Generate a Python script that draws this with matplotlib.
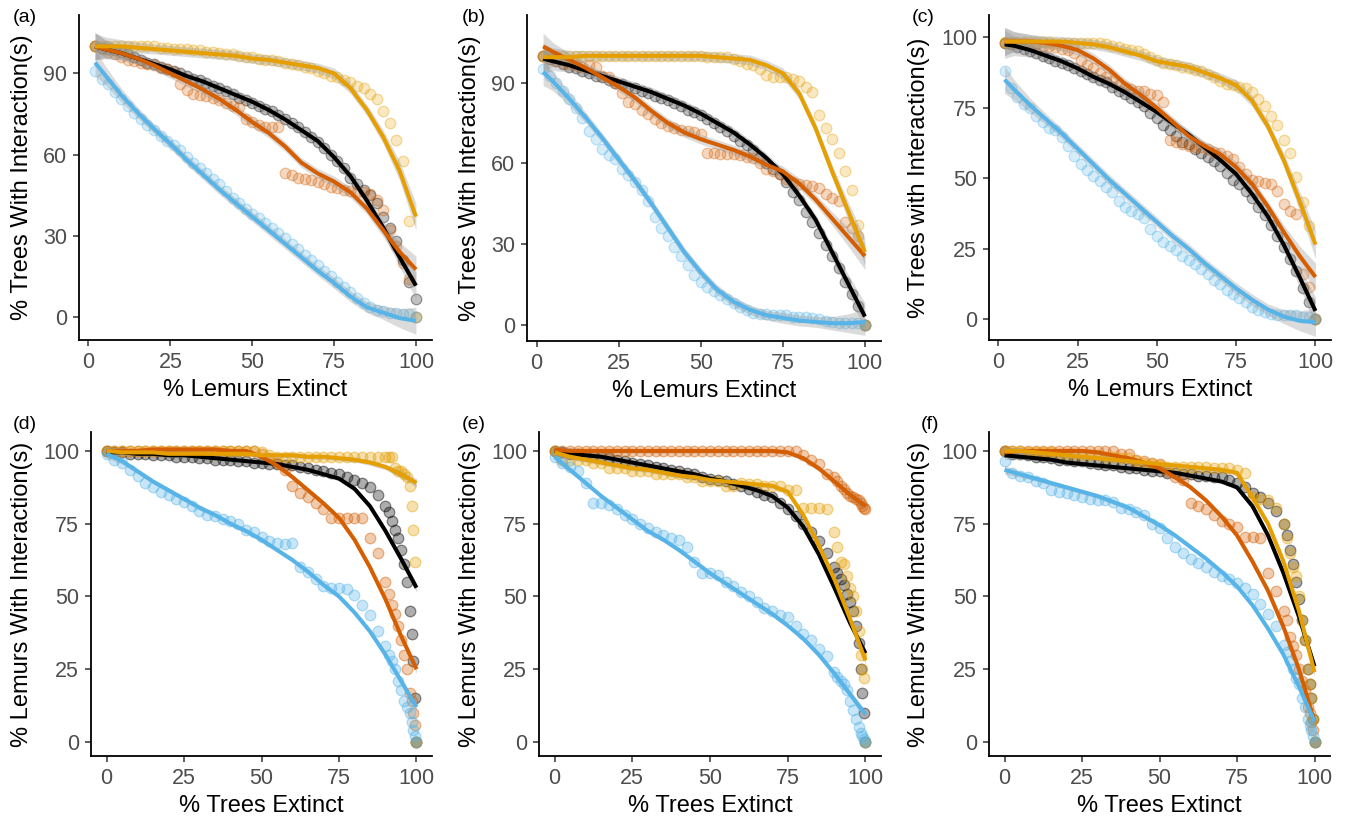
import numpy as np
import matplotlib
matplotlib.use("Agg")
import matplotlib.pyplot as plt
from matplotlib.colors import to_rgba

plt.rcParams["font.family"] = ["Liberation Sans", "DejaVu Sans"]

BLUE = "#56B4E9"
VERMILLION = "#D55E00"
ORANGE = "#E69F00"
BLACK = "#000000"

# x positions: % lemurs removed (top row), % trees removed (bottom row)
TOP_X = np.arange(2, 101, 2)
TOP_FIT_X = [2, 5, 10, 15, 20, 25, 30, 35, 40, 45, 50, 55, 60, 65, 70, 75, 80, 85, 90, 95, 100]
BOTTOM_X = [0, 2.5, 5, 7.5, 10, 12.5, 15, 17.5, 20, 22.5,
            25, 27.5, 30, 32.5, 35, 37.5, 40, 42.5, 45, 47.5,
            50, 52.5, 55, 57.5, 60, 62.5, 65, 67.5, 70, 72.5,
            75, 77.5, 80, 82.5, 85, 87.5, 90, 91, 92, 93,
            94, 95, 96, 97, 98, 98.5, 99, 99.5, 100]
BOTTOM_FIT_X = [0, 5, 10, 15, 20, 25, 30, 35, 40, 45, 50, 55, 60, 65, 70, 75, 80, 85, 90, 95, 100]

# half width of the smoother's confidence band
TOP_BAND = [5, 3.5, 2.5, 2, 1.8, 1.8, 1.8, 1.8, 1.8, 1.8, 1.8, 1.8, 1.8, 1.8, 1.8, 2, 2, 2, 2.5, 3.5, 5]
BOTTOM_BAND = [1.5, 1, 0.8, 0.8, 0.8, 0.8, 0.8, 0.8, 0.8, 0.8, 0.8, 0.8, 0.8, 0.8, 0.8, 0.8, 0.8, 1, 1, 1.2, 1.5]

# ---- panel (a)
a_black = [100, 99.5, 99, 98.5, 98, 97, 96, 95, 94, 93.5,
           92.5, 91.5, 91, 90, 89, 88, 87.5, 86.5, 85.5, 84.5,
           83.5, 82.5, 81, 80, 79, 78, 77, 76, 74.5, 73,
           71.5, 70, 68.5, 66.5, 64.5, 62.5, 60, 57.5, 55, 51.5,
           49, 47, 45, 42, 37, 33, 28, 21, 13, 6.5]
a_verm = [100, 99, 98, 97, 96, 95, 94.5, 94, 93.5, 93,
          92, 91.5, 90.5, 86, 84, 82.5, 82, 81.5, 81, 80,
          79, 78, 77.5, 73, 72, 71, 70, 70, 70, 53,
          52.5, 51.5, 51, 50.5, 50, 49, 48, 47.5, 47, 46.5,
          46, 46, 45.5, 43, 39.5, 32, 26, 20, 14, 0]
a_orange = [100, 100, 100, 100, 100, 100, 100, 100, 100, 100,
            99.5, 99.5, 99, 99, 99, 98.5, 98.5, 98, 98, 97.5,
            97, 97, 96.5, 96, 96, 95.5, 95, 95, 94.5, 94,
            93.5, 93, 92.5, 92, 91, 90, 89, 88.5, 87.5, 87,
            85.5, 84.5, 82.5, 80.5, 76, 71.5, 65.5, 57.5, 35.5, 0]
a_blue = [91, 88, 86, 83, 80.5, 78, 75.5, 73, 71, 69,
          67, 65, 63.5, 61.5, 59, 57, 55, 53, 51, 49,
          46.5, 44, 42, 40, 38, 36.5, 34.5, 33, 31, 29,
          27, 25, 23, 21, 19, 17, 15, 13, 11, 9,
          7, 5, 3.5, 2.5, 2, 1.5, 1.5, 1, 1, 0]
a_black_fit = [100, 99, 97.5, 95.5, 93.5, 91.5, 89, 87, 84.5, 82, 79.5, 76.5, 73, 69, 65, 59, 52, 43, 33, 22, 11.5]
a_verm_fit = [100, 99, 97.5, 95.5, 93, 90, 87, 84, 80.5, 76.5, 72, 68, 63, 57, 53, 50, 46, 40, 32, 24, 17.5]
a_orange_fit = [100, 100, 100, 99.5, 99, 98.5, 98, 97.5, 97, 96.5, 95.5, 95, 94, 93, 92, 90, 84.5, 76.5, 66.5, 54, 37]
a_blue_fit = [94, 89.5, 82, 75.5, 69.5, 64, 58, 52.5, 47, 42, 37, 32, 27, 22, 17, 12.5, 7.5, 3.5, 1.5, -0.5, -1.5]

# ---- panel (b)
b_black = [100, 99, 98, 97, 96, 95.5, 94.5, 93.5, 92.5, 92,
           91, 90, 89.5, 88.5, 88, 87, 86, 85, 84.5, 83.5,
           82.5, 81.5, 80, 79, 78, 76.5, 75, 73.5, 72, 70,
           68.5, 67, 65, 62.5, 60, 58, 56, 53, 49.5, 46.5,
           42, 38, 34, 29.5, 25.5, 21, 16, 11.5, 7, 0]
b_verm = [100, 99, 98, 97.5, 97, 96.5, 96, 96.5, 96, 92.5,
          92, 90, 86, 83, 82, 80, 78.5, 76.5, 75, 74,
          73, 72.5, 72, 71.5, 71, 64, 64, 63.5, 63.5, 63.5,
          63, 62.5, 62, 60, 58, 57, 56, 54, 53, 52.5,
          52, 51.5, 51, 48.5, 47, 46, 38, 36, 33, 0]
b_orange = [100, 100, 100, 100, 100, 100, 100, 100, 100, 100,
            100, 100, 100, 100, 100, 100, 100, 100, 100, 100,
            100, 100, 100, 100, 100, 99.5, 99.5, 99.5, 99.5, 99,
            98, 97, 96.5, 95, 93, 92, 92, 92, 91.5, 90.5,
            88.5, 86.5, 78, 73, 69, 64, 57, 50, 37, 0]
b_blue = [95, 92.5, 90, 87, 84, 80.5, 77, 72, 69, 65.5,
          63, 61.5, 58, 55.5, 53, 50, 46, 40, 36, 33,
          29, 25.5, 22, 18.5, 16, 14, 12.5, 11, 9.5, 8,
          6.5, 5.5, 4.5, 4, 4, 3.5, 3.5, 3.5, 3, 3,
          3, 2.5, 2, 1.5, 1, 0.5, 0.5, 0.5, 0.5, 0]
b_black_fit = [99, 98, 96.5, 94.5, 92.5, 90.5, 88.5, 86.5, 84, 81.5, 78.5, 75, 71.5, 67, 62, 56, 48, 39, 27, 15, 3]
b_verm_fit = [103.5, 101.5, 98.5, 95.5, 92, 88.5, 84.5, 79.5, 75, 71.5, 69, 67, 65, 62.5, 59.5, 57, 52.5, 46.5, 39.5, 32.5, 25.5]
b_orange_fit = [99.5, 99.5, 99.5, 100, 100, 100, 100, 100, 100, 100, 100, 99.5, 99, 98.5, 96.5, 93.5, 86, 73, 57, 42, 27]
b_blue_fit = [94, 90.5, 84, 77, 69.5, 61.5, 53.5, 45, 36, 27, 19.5, 13, 8.5, 5.5, 3.5, 2.5, 1.5, 1, 0.5, 0.5, 1]

# ---- panel (c)
c_black = [98, 97.5, 96.5, 96, 95, 94.5, 93.5, 92.5, 91.5, 91,
           90, 89, 88, 87, 86, 85, 84, 82.5, 81, 80,
           78.5, 77, 75.5, 73, 71.5, 69, 67, 65, 63, 62,
           60.5, 59, 57.5, 56, 54.5, 52, 49.5, 48, 45.5, 43,
           40, 37, 33.5, 29.5, 25.5, 21.5, 17, 11, 6, 0]
c_verm = [98, 98, 98, 98, 97.5, 97.5, 97, 97, 96.5, 96,
          95.5, 94.5, 92, 90, 89, 87.5, 86, 84.5, 83, 82.5,
          81.5, 81, 81, 80, 79.5, 77, 63.5, 63, 62, 61.5,
          61, 61, 60.5, 59.5, 59, 58, 57, 54, 51.5, 49.5,
          49, 48.5, 48, 45.5, 41, 38.5, 37.5, 16, 11.5, 0]
c_orange = [98.5, 98.5, 98.5, 98.5, 98.5, 98.5, 98.5, 98.5, 98, 98,
            98, 98, 98, 98, 98, 98, 97.5, 97, 96.5, 96,
            95.5, 95, 94, 93, 92, 91, 90.5, 90, 89.5, 89,
            88.5, 88, 87, 86, 84.5, 83.5, 83, 82.5, 82, 80.5,
            78, 75.5, 72, 69, 63.5, 59, 50.5, 41.5, 33, 0]
c_blue = [88, 82, 79, 76.5, 75, 72, 70, 68, 67, 64.5,
          61.5, 58, 55, 53, 51, 49, 47, 45, 42, 40,
          38.5, 37.5, 36, 32, 29.5, 27.5, 26, 24.5, 22.5, 21,
          19.5, 18, 16, 14, 12.5, 10.5, 9, 7.5, 6, 4.5,
          3.5, 2.5, 2, 1.5, 1.5, 1.5, 1.5, 1, 1, 0]
c_black_fit = [97.5, 97, 95.5, 93.5, 91.5, 89, 86, 83.5, 80.5, 77, 73.5, 69.5, 65.5, 61, 56.5, 51.5, 44.5, 36.5, 26.5, 15, 3]
c_verm_fit = [98.5, 98.5, 98.5, 98, 97, 95.5, 92.5, 88.5, 83.5, 79.5, 75, 70, 65, 61.5, 58.5, 54, 48, 40, 31, 22.5, 15]
c_orange_fit = [98.5, 98.5, 98.5, 98.5, 98.5, 98, 97.5, 96.5, 95, 93.5, 91.5, 90.5, 89.5, 87.5, 85.5, 83, 77.5, 68.5, 56.5, 42, 26.5]
c_blue_fit = [85, 81.5, 76, 71, 66, 60.5, 55, 49.5, 44.5, 39.5, 34.5, 29.5, 25, 20, 15.5, 11, 7, 3.5, 1, -0.5, -1]

# ---- panel (d)
d_black = [100, 99.5, 99.5, 99, 99, 99, 98.5, 98.5, 98.5, 98,
           98, 98, 97.5, 97.5, 97, 97, 97, 96.5, 96.5, 96,
           96, 95.5, 95.5, 95, 95, 94.5, 94, 93.5, 93, 92.5,
           92, 91, 90, 89, 87.5, 85, 81, 79, 76, 73,
           70, 66, 61, 55, 45, 37, 28, 15, 0]
d_verm = [100, 100, 100, 100, 100, 100, 100, 100, 100, 100,
          100, 100, 100, 100, 100, 100, 100, 100, 100, 100,
          99, 97.5, 96, 93.5, 88, 85.5, 84, 82, 80, 77,
          77, 77, 77, 77, 70, 65, 55, 51, 47, 44,
          40, 35, 30, 25, 17, 14, 10, 6, 0]
d_orange = [100, 100, 100, 100, 100, 100, 100, 100, 100, 100,
            100, 100, 100, 100, 100, 100, 100, 100, 100, 100,
            99.5, 98.5, 98, 98, 98, 98, 98, 98, 98, 98,
            98, 98, 98, 98, 98, 98, 98, 98, 98, 94,
            93, 93, 92, 91, 88, 81, 73, 62, 0]
d_blue = [99, 97, 96, 93.5, 91.5, 89, 87.5, 86, 85, 83.5,
          82.5, 81, 79.5, 78, 77.5, 76.5, 76, 75, 73, 72,
          70.5, 69, 68.5, 68, 68.5, 60, 58.5, 56, 53.5, 53,
          53, 52.5, 50.5, 47, 43.5, 38, 33, 30, 28, 25,
          21, 18, 14, 12, 10, 7, 4, 2, 0]
d_black_fit = [99.5, 99.5, 99, 99, 98.5, 98.5, 98, 97.5, 97, 96.5, 96, 95.5, 94.5, 93.5, 92, 90.5, 87, 81, 72.5, 63, 53]
d_verm_fit = [100, 100, 100, 100.5, 100.5, 100.5, 100.5, 100.5, 100, 100, 98, 95, 91, 86.5, 82, 77, 69.5, 60, 49, 36.5, 25]
d_orange_fit = [100, 99.5, 99.5, 99.5, 99, 99, 99, 99, 99, 99, 98.5, 98.5, 98.5, 98, 98, 97.5, 97, 96, 94.5, 92, 89]
d_blue_fit = [99, 96.5, 93, 89.5, 86.5, 83.5, 80.5, 78, 75, 72.5, 69.5, 66, 62.5, 58.5, 54, 50, 44.5, 38, 30, 21, 12]

# ---- panel (e)
e_black = [100, 99.5, 99, 99, 98.5, 98.5, 98, 97.5, 97, 96.5,
           96, 95.5, 95, 94.5, 94, 93.5, 93, 92.5, 92, 91,
           90.5, 90, 89.5, 88.5, 88, 87, 86, 85, 84, 82,
           80, 77.5, 75, 72, 69, 65, 60, 58, 56, 54,
           51, 48, 45, 40, 34, 25, 17, 10, 0]
e_verm = [100, 100, 100, 100, 100, 100, 100, 100, 100, 100,
          100, 100, 100, 100, 100, 100, 100, 100, 100, 100,
          100, 100, 100, 100, 100, 100, 100, 100, 100, 100,
          100, 100, 98.5, 97, 95.5, 92, 91, 89.5, 88, 87,
          85.5, 84.5, 84, 83.5, 83, 82, 81, 80.5, 80]
e_orange = [100, 97, 97, 97, 97, 96, 96, 94, 94, 94,
            93, 93, 93, 92, 92, 92, 92, 91, 91, 89.5,
            89.5, 89.5, 88, 88, 89, 88.5, 88.5, 88, 88, 88,
            86.5, 86.5, 80.5, 80.5, 80.5, 80, 72, 67, 62, 61,
            57, 53, 50, 45, 38, 30, 25, 22, 0]
e_blue = [98, 96, 94.5, 93, 89, 82, 82, 81.5, 80, 78,
          76.5, 75, 73.5, 72, 71, 70, 69.5, 67, 62, 58,
          58, 57.5, 55, 53.5, 51.5, 50, 48, 46, 45, 43.5,
          43, 40, 37, 35, 32, 29.5, 24, 22.5, 21, 20,
          18, 14, 11, 8, 5, 3, 2, 1, 0]
e_black_fit = [100, 99, 98.5, 98, 97, 96, 95, 94, 93, 92, 90.5, 89.5, 88, 86.5, 84.5, 80.5, 74, 64.5, 53, 41, 30.5]
e_verm_fit = [100.5, 100, 100, 100, 100, 100, 100, 100, 100, 100, 100, 100, 100, 100, 100, 99.5, 97.5, 94, 89.5, 85, 81]
e_orange_fit = [99.5, 98, 97, 96, 95, 94, 93.5, 92.5, 91.5, 91, 90, 89.5, 89, 88.5, 88, 86, 78, 67.5, 56, 42.5, 28]
e_blue_fit = [98, 93.5, 89, 84.5, 80.5, 76.5, 72.5, 69.5, 66, 62, 58, 54.5, 51, 47.5, 44, 40, 35.5, 30, 23.5, 16.5, 9.5]

# ---- panel (f)
f_black = [100, 99, 99, 98.5, 98, 98, 97.5, 97, 97, 96.5,
           96.5, 96, 95.5, 95, 95, 94.5, 94, 94, 93.5, 93,
           93, 92.5, 92.5, 92, 92, 91.5, 91.5, 91, 91, 90,
           89, 87.5, 85.5, 84, 82, 79.5, 75, 71, 66, 61,
           55, 49, 42, 35, 25, 20, 15, 8, 0]
f_verm = [100, 100, 100, 100, 100, 100, 100, 100, 100, 100,
          100, 100, 100, 100, 100, 99, 99, 97, 96.5, 96,
          95.5, 93, 91, 90, 82, 81, 80, 78, 76, 75,
          74, 70.5, 70.5, 70, 58, 52, 45, 42, 36, 33,
          30, 25, 21, 18, 12, 10, 7, 4, 0]
f_orange = [100, 100, 100, 99.5, 99.5, 99.5, 99.5, 99, 99, 99,
            98.5, 98.5, 98.5, 98, 98, 97.5, 97.5, 96.5, 96, 95.5,
            95, 94.5, 94.5, 94.5, 94.5, 94.5, 94.5, 94, 94, 94,
            93.5, 92.5, 84, 83.5, 83, 80.5, 75, 70, 65, 60,
            57, 50, 42, 35, 25, 20, 15, 8, 0]
f_blue = [96.5, 92.5, 91.5, 91, 89.5, 89, 86.5, 86, 85.5, 85,
          84, 83.5, 83, 83, 82.5, 80.5, 80, 79, 78, 75,
          73.5, 70, 67, 65, 63, 61.5, 60, 58.5, 57, 56,
          54.5, 53, 51, 47.5, 44, 40, 33.5, 31, 28, 25,
          22, 20, 15, 12, 8, 6, 4, 2, 0]
f_black_fit = [98.5, 98, 97.5, 97, 96, 95.5, 95, 94.5, 94, 93.5, 93, 92.5, 91.5, 90.5, 89.5, 87.5, 81, 71, 58, 43, 26]
f_verm_fit = [99.5, 100, 100, 100, 100, 100, 99.5, 98.5, 97.5, 96, 94, 91, 87.5, 83, 77.5, 71, 62, 52, 39.5, 25, 7]
f_orange_fit = [100, 100, 99.5, 99, 98.5, 98, 97.5, 97, 96.5, 96, 95.5, 95, 94.5, 94, 93.5, 92.5, 84, 75, 62, 45, 24]
f_blue_fit = [93.5, 92, 90.5, 89, 87.5, 86, 84.5, 82.5, 80.5, 77.5, 74.5, 71, 67, 63, 58.5, 53.5, 47, 39, 30, 19, 7]

TREES_Y = "% Trees With Interaction(s)"
LEMURS_Y = "% Lemurs With Interaction(s)"


def build_panels():
    colors = [BLACK, VERMILLION, ORANGE, BLUE]
    top = dict(x=TOP_X, fit_x=TOP_FIT_X, band=TOP_BAND, xlabel="% Lemurs Extinct",
               xlim=(-2.9, 104.9), alpha=0.24, tag_y=17, ylabel_x_off=57)
    bottom = dict(x=BOTTOM_X, fit_x=BOTTOM_FIT_X, band=BOTTOM_BAND, xlabel="% Trees Extinct",
                  xlim=(-5, 105), ylim=(-4.8, 106.5), yticks=[0, 25, 50, 75, 100],
                  ylabel=LEMURS_Y, alpha=0.32, tag_y=424, ylabel_x_off=69)
    return [
        dict(top, tag="(a)", tag_x=13, rect=(79, 15, 432, 340), ylim=(-8.6, 111.6),
             yticks=[0, 30, 60, 90], ylabel=TREES_Y, colors=colors,
             points=[a_black, a_verm, a_orange, a_blue],
             fits=[a_black_fit, a_verm_fit, a_orange_fit, a_blue_fit]),
        dict(top, tag="(b)", tag_x=462, rect=(527, 15, 881, 341), ylim=(-6.1, 115.2),
             yticks=[0, 30, 60, 90], ylabel=TREES_Y, colors=colors,
             points=[b_black, b_verm, b_orange, b_blue],
             fits=[b_black_fit, b_verm_fit, b_orange_fit, b_blue_fit]),
        dict(top, tag="(c)", tag_x=912, rect=(989, 15, 1331, 340), ylim=(-7.3, 107.9),
             yticks=[0, 25, 50, 75, 100], ylabel="% Trees with Interaction(s)",
             ylabel_x_off=70, colors=colors,
             points=[c_black, c_verm, c_orange, c_blue],
             fits=[c_black_fit, c_verm_fit, c_orange_fit, c_blue_fit]),
        dict(bottom, tag="(d)", tag_x=13, rect=(91, 432, 432, 756), colors=colors,
             points=[d_black, d_verm, d_orange, d_blue],
             fits=[d_black_fit, d_verm_fit, d_orange_fit, d_blue_fit]),
        dict(bottom, tag="(e)", tag_x=462, rect=(539, 432, 881, 756), colors=colors,
             points=[e_black, e_verm, e_orange, e_blue],
             fits=[e_black_fit, e_verm_fit, e_orange_fit, e_blue_fit]),
        dict(bottom, tag="(f)", tag_x=921, rect=(989, 432, 1330, 756), ylabel_x_off=70,
             colors=colors,
             points=[f_black, f_verm, f_orange, f_blue],
             fits=[f_black_fit, f_verm_fit, f_orange_fit, f_blue_fit]),
    ]


def draw_panel(fig, panel, width, height):
    left, top, right, bottom = panel["rect"]
    ax = fig.add_axes([left / width, 1 - bottom / height,
                       (right - left) / width, (bottom - top) / height])

    alpha = panel["alpha"]
    for ys, color in zip(panel["points"], panel["colors"]):
        ax.scatter(panel["x"], ys, s=58, facecolor=to_rgba(color, alpha),
                   edgecolor=to_rgba(color, alpha + 0.12), linewidth=0.9, zorder=2)

    band = np.asarray(panel["band"])
    for fit in panel["fits"]:
        fit = np.asarray(fit)
        ax.fill_between(panel["fit_x"], fit - band, fit + band, color="#999999",
                        alpha=0.35, linewidth=0, zorder=3)
    for fit, color in zip(panel["fits"], panel["colors"]):
        ax.plot(panel["fit_x"], fit, color=color, linewidth=2.9,
                solid_capstyle="butt", zorder=4)

    ax.set_xlim(*panel["xlim"])
    ax.set_ylim(*panel["ylim"])
    ax.set_xticks([0, 25, 50, 75, 100])
    ax.set_yticks(panel["yticks"])
    for side in ("top", "right"):
        ax.spines[side].set_visible(False)
    for side in ("left", "bottom"):
        ax.spines[side].set_linewidth(1.3)
        ax.spines[side].set_color("black")
    ax.tick_params(length=4.5, width=1.1, color="#333333", labelcolor="#4D4D4D",
                   labelsize=15.5, pad=4)

    ax.set_xlabel(panel["xlabel"], fontsize=17, color="black")
    ax.set_ylabel(panel["ylabel"], fontsize=17, color="black")
    ax.xaxis.set_label_coords(0.5, -50 / (bottom - top))
    ax.yaxis.set_label_coords(-panel["ylabel_x_off"] / (right - left), 0.5)
    ax.yaxis.label.set_verticalalignment("center")
    ax.xaxis.label.set_verticalalignment("center")

    fig.text(panel["tag_x"] / width, 1 - panel["tag_y"] / height, panel["tag"],
             fontsize=14, color="black", ha="left", va="center")
    return ax


def main():
    width, height = 1346, 819
    fig = plt.figure(figsize=(width / 100, height / 100), dpi=100)
    for panel in build_panels():
        draw_panel(fig, panel, width, height)
    fig.savefig("out.png", dpi=100, facecolor="white")
    plt.close(fig)


if __name__ == "__main__":
    main()
